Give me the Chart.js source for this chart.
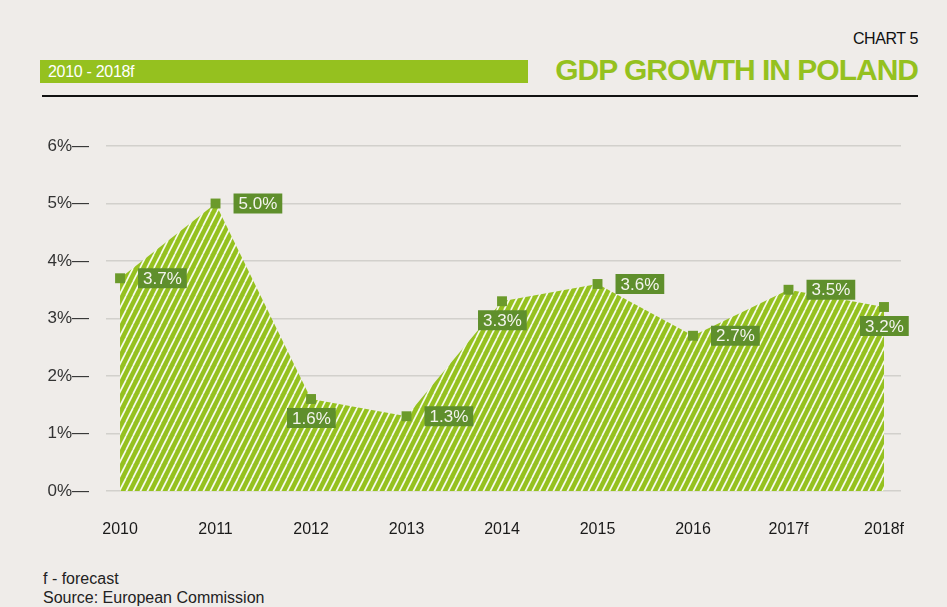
<!DOCTYPE html>
<html>
<head>
<meta charset="utf-8">
<script src="https://cdn.jsdelivr.net/npm/chart.js@4"></script>
<style>
  html, body { margin:0; padding:0; background:#efece9; }
  body { width:947px; height:607px; position:relative; overflow:hidden; font-family:"Liberation Sans", Arial, sans-serif; }
  #chartNo { position:absolute; right:29px; top:30px; font-size:16px; color:#111; letter-spacing:-0.4px; }
  #bar { position:absolute; left:40px; top:60px; width:488px; height:23px; background:#95c11f; color:#fff; font-size:16px; line-height:23px; box-sizing:border-box; padding-left:8px; letter-spacing:-0.3px; }
  #title { position:absolute; right:29px; top:52px; font-size:30px; line-height:36px; color:#95c11f; font-weight:bold; letter-spacing:-1px; }
  #rule { position:absolute; left:42px; top:95px; width:876px; height:2px; background:#111; }
  #foot { position:absolute; left:43px; top:569px; font-size:16px; color:#222; line-height:19px; }
  #wrap { position:absolute; left:0; top:100px; width:947px; height:460px; }
</style>
</head>
<body>
<div id="chartNo">CHART 5</div>
<div id="bar">2010 - 2018f</div>
<div id="title">GDP GROWTH IN POLAND</div>
<div id="rule"></div>
<div id="wrap"><canvas id="c" width="947" height="460"></canvas></div>
<div id="foot">f - forecast<br>Source: European Commission</div>
<script>
const years = ["2010","2011","2012","2013","2014","2015","2016","2017f","2018f"];
const gdpGrowth = [3.7, 5.0, 1.6, 1.3, 3.3, 3.6, 2.7, 3.5, 3.2];
const yTicks = [0, 1, 2, 3, 4, 5, 6];
const labelPlacement = ["right","right","below","right","below","right","right","right","below"];

function makeHatch() {
  const t = document.createElement('canvas');
  t.width = 7; t.height = 14;
  const g = t.getContext('2d');
  g.fillStyle = '#95c11f';
  g.fillRect(0, 0, 7, 14);
  g.strokeStyle = 'rgba(255,255,255,0.92)';
  g.lineWidth = 1.7;
  for (const o of [-7, 0, 7]) {
    g.beginPath();
    g.moveTo(o, 14);
    g.lineTo(o + 7, 0);
    g.stroke();
  }
  return g.createPattern(t, 'repeat');
}

const labelPlugin = {
  id: 'valueLabels',
  afterDatasetsDraw(chart) {
    const ctx = chart.ctx;
    const meta = chart.getDatasetMeta(0);
    ctx.save();
    ctx.font = '17px "Liberation Sans", Arial, sans-serif';
    ctx.textBaseline = 'middle';
    meta.data.forEach((pt, i) => {
      const txt = gdpGrowth[i].toFixed(1) + '%';
      const w = ctx.measureText(txt).width + 10;
      const h = 20;
      let left, cy;
      if (labelPlacement[i] === 'below') { left = pt.x - 24; cy = pt.y + 19; }
      else { left = pt.x + 18; cy = pt.y; }
      ctx.fillStyle = '#5f8f2c';
      ctx.fillRect(left, cy - h / 2, w, h);
      ctx.fillStyle = '#f4f4ee';
      ctx.textAlign = 'left';
      ctx.fillText(txt, left + 5, cy + 1);
    });
    ctx.restore();
  }
};

const ctx = document.getElementById('c').getContext('2d');
new Chart(ctx, {
  type: 'line',
  data: {
    datasets: [{
      data: gdpGrowth.map((v, i) => ({ x: i, y: v })),
      fill: 'origin',
      backgroundColor: makeHatch(),
      borderWidth: 0,
      borderColor: 'rgba(0,0,0,0)',
      tension: 0,
      pointStyle: 'rect',
      pointRadius: 7,
      pointHoverRadius: 7,
      pointBackgroundColor: '#6b9a2b',
      pointBorderWidth: 0
    }]
  },
  options: {
    responsive: false,
    animation: false,
    events: [],
    layout: { padding: { top: 46, right: 46, left: 0, bottom: 0 } },
    plugins: { legend: { display: false }, tooltip: { enabled: false } },
    scales: {
      x: {
        type: 'linear',
        min: -0.147,
        max: 8.178,
        grid: { display: false },
        border: { display: false },
        afterBuildTicks: (s) => { s.ticks = years.map((_, i) => ({ value: i })); },
        afterFit: (s) => { s.height = 69; },
        ticks: {
          autoSkip: false,
          maxRotation: 0,
          padding: 21,
          color: '#1a1a1a',
          font: { family: '"Liberation Sans", Arial, sans-serif', size: 16 },
          callback: (v) => years[v]
        }
      },
      y: {
        min: 0,
        max: 6,
        afterBuildTicks: (s) => { s.ticks = yTicks.map(v => ({ value: v })); },
        afterFit: (s) => { s.width = 106; },
        grid: { color: '#d2d0cc', lineWidth: 1.5, drawTicks: false },
        border: { display: false },
        ticks: {
          padding: 17,
          color: '#333',
          font: { family: '"Liberation Sans", Arial, sans-serif', size: 17 },
          callback: (v) => v + '%\u2014'
        }
      }
    }
  },
  plugins: [labelPlugin]
});
</script>
</body>
</html>
